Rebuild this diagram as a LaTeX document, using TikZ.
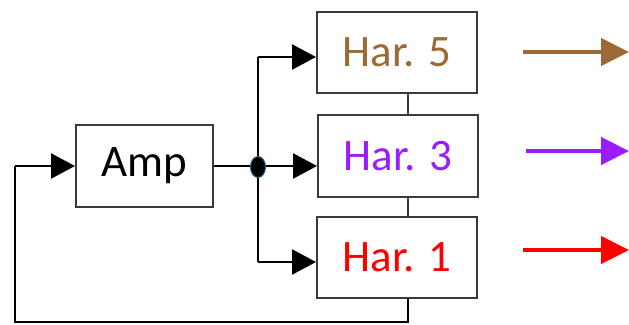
\documentclass[tikz,border=0pt]{standalone}
\usepackage{fontspec}
\setmainfont{Carlito}
\usetikzlibrary{arrows.meta,shapes.geometric,calc}
\definecolor{harbrown}{HTML}{9C6A34}
\definecolor{harpurple}{HTML}{9B1DFF}
\definecolor{harred}{HTML}{FF0000}
\definecolor{boxgray}{HTML}{3A3A3A}
\definecolor{dotrim}{HTML}{2E5A80}
\begin{document}
\begin{tikzpicture}[x=1pt,y=-1pt,
  blk/.style={draw=boxgray,line width=2pt,rectangle,inner sep=0pt,minimum width=160pt,minimum height=81pt,font=\fontsize{45}{50}\selectfont},
  wire/.style={draw=black,line width=2.5pt},
  warrow/.style={wire,-{Triangle[length=24pt,width=25pt]}},
  outarrow/.style={line width=4.5pt,-{Triangle[length=28pt,width=27pt]}}]
\useasboundingbox (0,0) rectangle (629,324);
% blocks
\node[blk,minimum width=137pt,minimum height=82pt] (amp) at (144.5,166) {Amp};
\node[blk,text=harbrown] (har5) at (397,52.5) {Har. 5};
\node[blk,text=harpurple,minimum height=82pt] (har3) at (398,156) {Har. 3};
\node[blk,text=harred] (har1) at (397,257.5) {Har. 1};
% helper coordinates
\coordinate (vx) at (408,0);
\coordinate (top) at (258,57);
\coordinate (bot) at (258,262);
\coordinate (fbr) at (408,322);
\coordinate (fbl) at (15,322);
\coordinate (fbu) at (15,166);
% stacked connectors
\draw[draw=boxgray,line width=2pt] (vx |- har5.south) -- (vx |- har3.north);
\draw[draw=boxgray,line width=2pt] (vx |- har3.south) -- (vx |- har1.north);
% feedback loop
\draw[wire] (vx |- har1.south) -- (fbr) -- (fbl) -- (fbu);
\draw[warrow] (fbu) -- (amp.west);
% junction
\node[ellipse,fill=black,draw=dotrim,line width=1pt,minimum width=15pt,minimum height=21pt,inner sep=0pt] (dot) at (258,167) {};
\draw[wire] (amp.east) -- (dot.west |- amp.east);
\draw[wire] (top) -- (dot.north);
\draw[wire] (dot.south) -- (bot);
\draw[warrow] (top) -- (top -| har5.west);
\draw[warrow] (dot.east |- amp.east) -- (amp.east -| har3.west);
\draw[warrow] (bot) -- (bot -| har1.west);
% outputs
\coordinate (o5a) at (523,52); \coordinate (o5b) at (629,52);
\coordinate (o3a) at (526,151); \coordinate (o3b) at (629,151);
\coordinate (o1a) at (523,250); \coordinate (o1b) at (629,250);
\draw[outarrow,harbrown] (o5a) -- (o5b);
\draw[outarrow,harpurple] (o3a) -- (o3b);
\draw[outarrow,harred] (o1a) -- (o1b);
\end{tikzpicture}
\end{document}
